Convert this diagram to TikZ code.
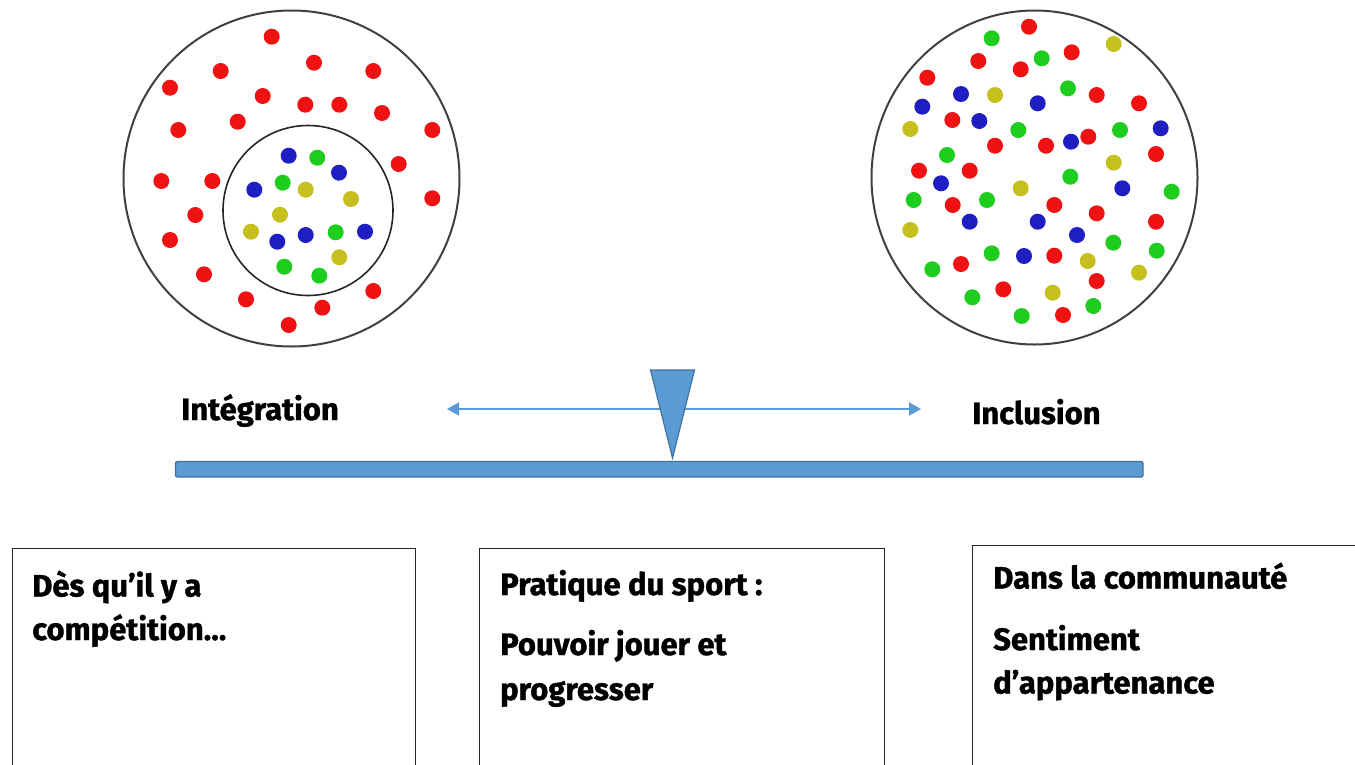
\documentclass[tikz,border=0pt]{standalone}
\usepackage{fontspec}
\setmainfont{Fira Sans}[BoldFeatures={FakeBold=1.3}]
\usetikzlibrary{arrows.meta}
\definecolor{dred}{RGB}{240,18,18}
\definecolor{dblue}{RGB}{30,30,195}
\definecolor{dgreen}{RGB}{30,205,30}
\definecolor{dyellow}{RGB}{198,192,30}
\definecolor{ofblue}{HTML}{5B9BD5}
\definecolor{ofedge}{HTML}{41719C}
\tikzset{
  lbl/.style={anchor=base west, inner sep=0pt, font=\fontsize{31}{36}\selectfont\bfseries},
  txtbox/.style={draw=black!85, line width=1.1pt},
  ring/.style={draw=black!75, line width=2pt},
}
\begin{document}
\begin{tikzpicture}[x=1pt,y=-1pt]
\useasboundingbox (0,0) rectangle (1355,764);
% ---------- left: integration ----------
\draw[ring] (291.5,178.5) circle (168);
\draw[draw=black!85, line width=1.6pt] (308,210.5) circle (85);
\foreach \x/\y in {271.7/36.7,314/62.7,373.3/71,220.7/71,170/87.7,262.7/96,305.3/104.7,339.3/104.7,382/113,178.3/130,237.7/121.7,432.3/130,398.7/164,161.3/181,212.3/181,432.3/198.3,195.3/215,170/240,204/274.3,246/299.3,288.7/325,322.3/307.7,373.3/291}
  \fill[dred] (\x,\y) circle (8);
\foreach \x/\y in {288.7/155.7,339/172.7,254.3/189.7,365/231.7,305.7/235,277.3/241.7}
  \fill[dblue] (\x,\y) circle (8);
\foreach \x/\y in {317.3/157.7,282.7/182.7,335.7/232.3,284.3/266.7,319.3/275.7}
  \fill[dgreen] (\x,\y) circle (8);
\foreach \x/\y in {305.7/189.7,351/199,280/214.7,251/231.7,339.3/257.3}
  \fill[dyellow] (\x,\y) circle (8);
% ---------- right: inclusion ----------
\draw[ring] (1034.5,177.5) ellipse (163 and 167);
\foreach \x/\y in {1029/26.7,1071.7/52.3,978.3/61,1020.7/69.3,927.3/77.7,1096.7/95,1139/103.3,952.3/120,995/145.7,1046/145.7,1088.3/136.7,1156/154,919/170.7,969.7/170.7,952.7/205,1054.3/205,1096.7/213.3,1156/221.7,1054.3/255.7,961/264,1096.7/281,1003.3/289.3,1063/315}
  \fill[dred] (\x,\y) circle (8);
\foreach \x/\y in {961/94,922.3/106.7,1037.7/103.3,979.3/121,1071/141.7,1160.7/128.3,941/183.3,1122.3/188.3,969.7/221.7,1037.7/221.7,1077/235,1024/256}
  \fill[dblue] (\x,\y) circle (8);
\foreach \x/\y in {991.7/38.3,1041.7/58.3,1068/88.3,1018.3/130,1120/130,947/155,1070.3/176.7,1171.7/191.7,913.7/200,987/200,1113.3/242.7,1156.7/250.7,991.7/253.3,932.3/269.3,972.3/297.3,1093.3/306,1021.7/316}
  \fill[dgreen] (\x,\y) circle (8);
\foreach \x/\y in {1113.7/44,995/95,910.3/129,1113.7/162.7,1020.7/188.3,910.3/230,1087.7/261,1139/272.7,1052.7/292.7}
  \fill[dyellow] (\x,\y) circle (8);
% ---------- scale ----------
\coordinate (aL) at (447,409);
\coordinate (aR) at (921,409);
\draw[ofblue, line width=1.8pt, {Triangle[length=12pt,width=13pt]}-{Triangle[length=12pt,width=13pt]}] (aL) -- (aR);
\coordinate (t1) at (650.5,370);
\coordinate (t2) at (694.5,370);
\coordinate (t3) at (672.5,458);
\draw[fill=ofblue, draw=ofedge, line width=1.2pt, line join=miter] (t1) -- (t2) -- (t3) -- cycle;
\draw[fill=ofblue, draw=ofedge, line width=1.4pt, rounded corners=2pt] (175.5,461.5) rectangle (1143,477);
\node[lbl] (integ) at (181,420) {Intégration};
\node[lbl] (incl) at (972,424) {Inclusion};
% ---------- text boxes ----------
\draw[txtbox] (12.5,780) -- (12.5,548.5) -- (415.5,548.5) -- (415.5,780);
\draw[txtbox] (479.5,780) -- (479.5,548.5) -- (884.5,548.5) -- (884.5,780);
\draw[txtbox] (972.5,780) -- (972.5,545.5) -- (1370,545.5);
\node[lbl] (b1a) at (32,596.5) {Dès qu’il y a};
\node[lbl] (b1b) at (32,640) {compétition…};
\node[lbl] (b2a) at (500,595) {Pratique du sport :};
\node[lbl] (b2b) at (500,655) {Pouvoir jouer et};
\node[lbl] (b2c) at (500,700) {progresser};
\node[lbl] (b3a) at (993,588.5) {Dans la communauté};
\node[lbl] (b3b) at (993,650) {Sentiment};
\node[lbl] (b3c) at (993,693.5) {d’appartenance};
\end{tikzpicture}
\end{document}
